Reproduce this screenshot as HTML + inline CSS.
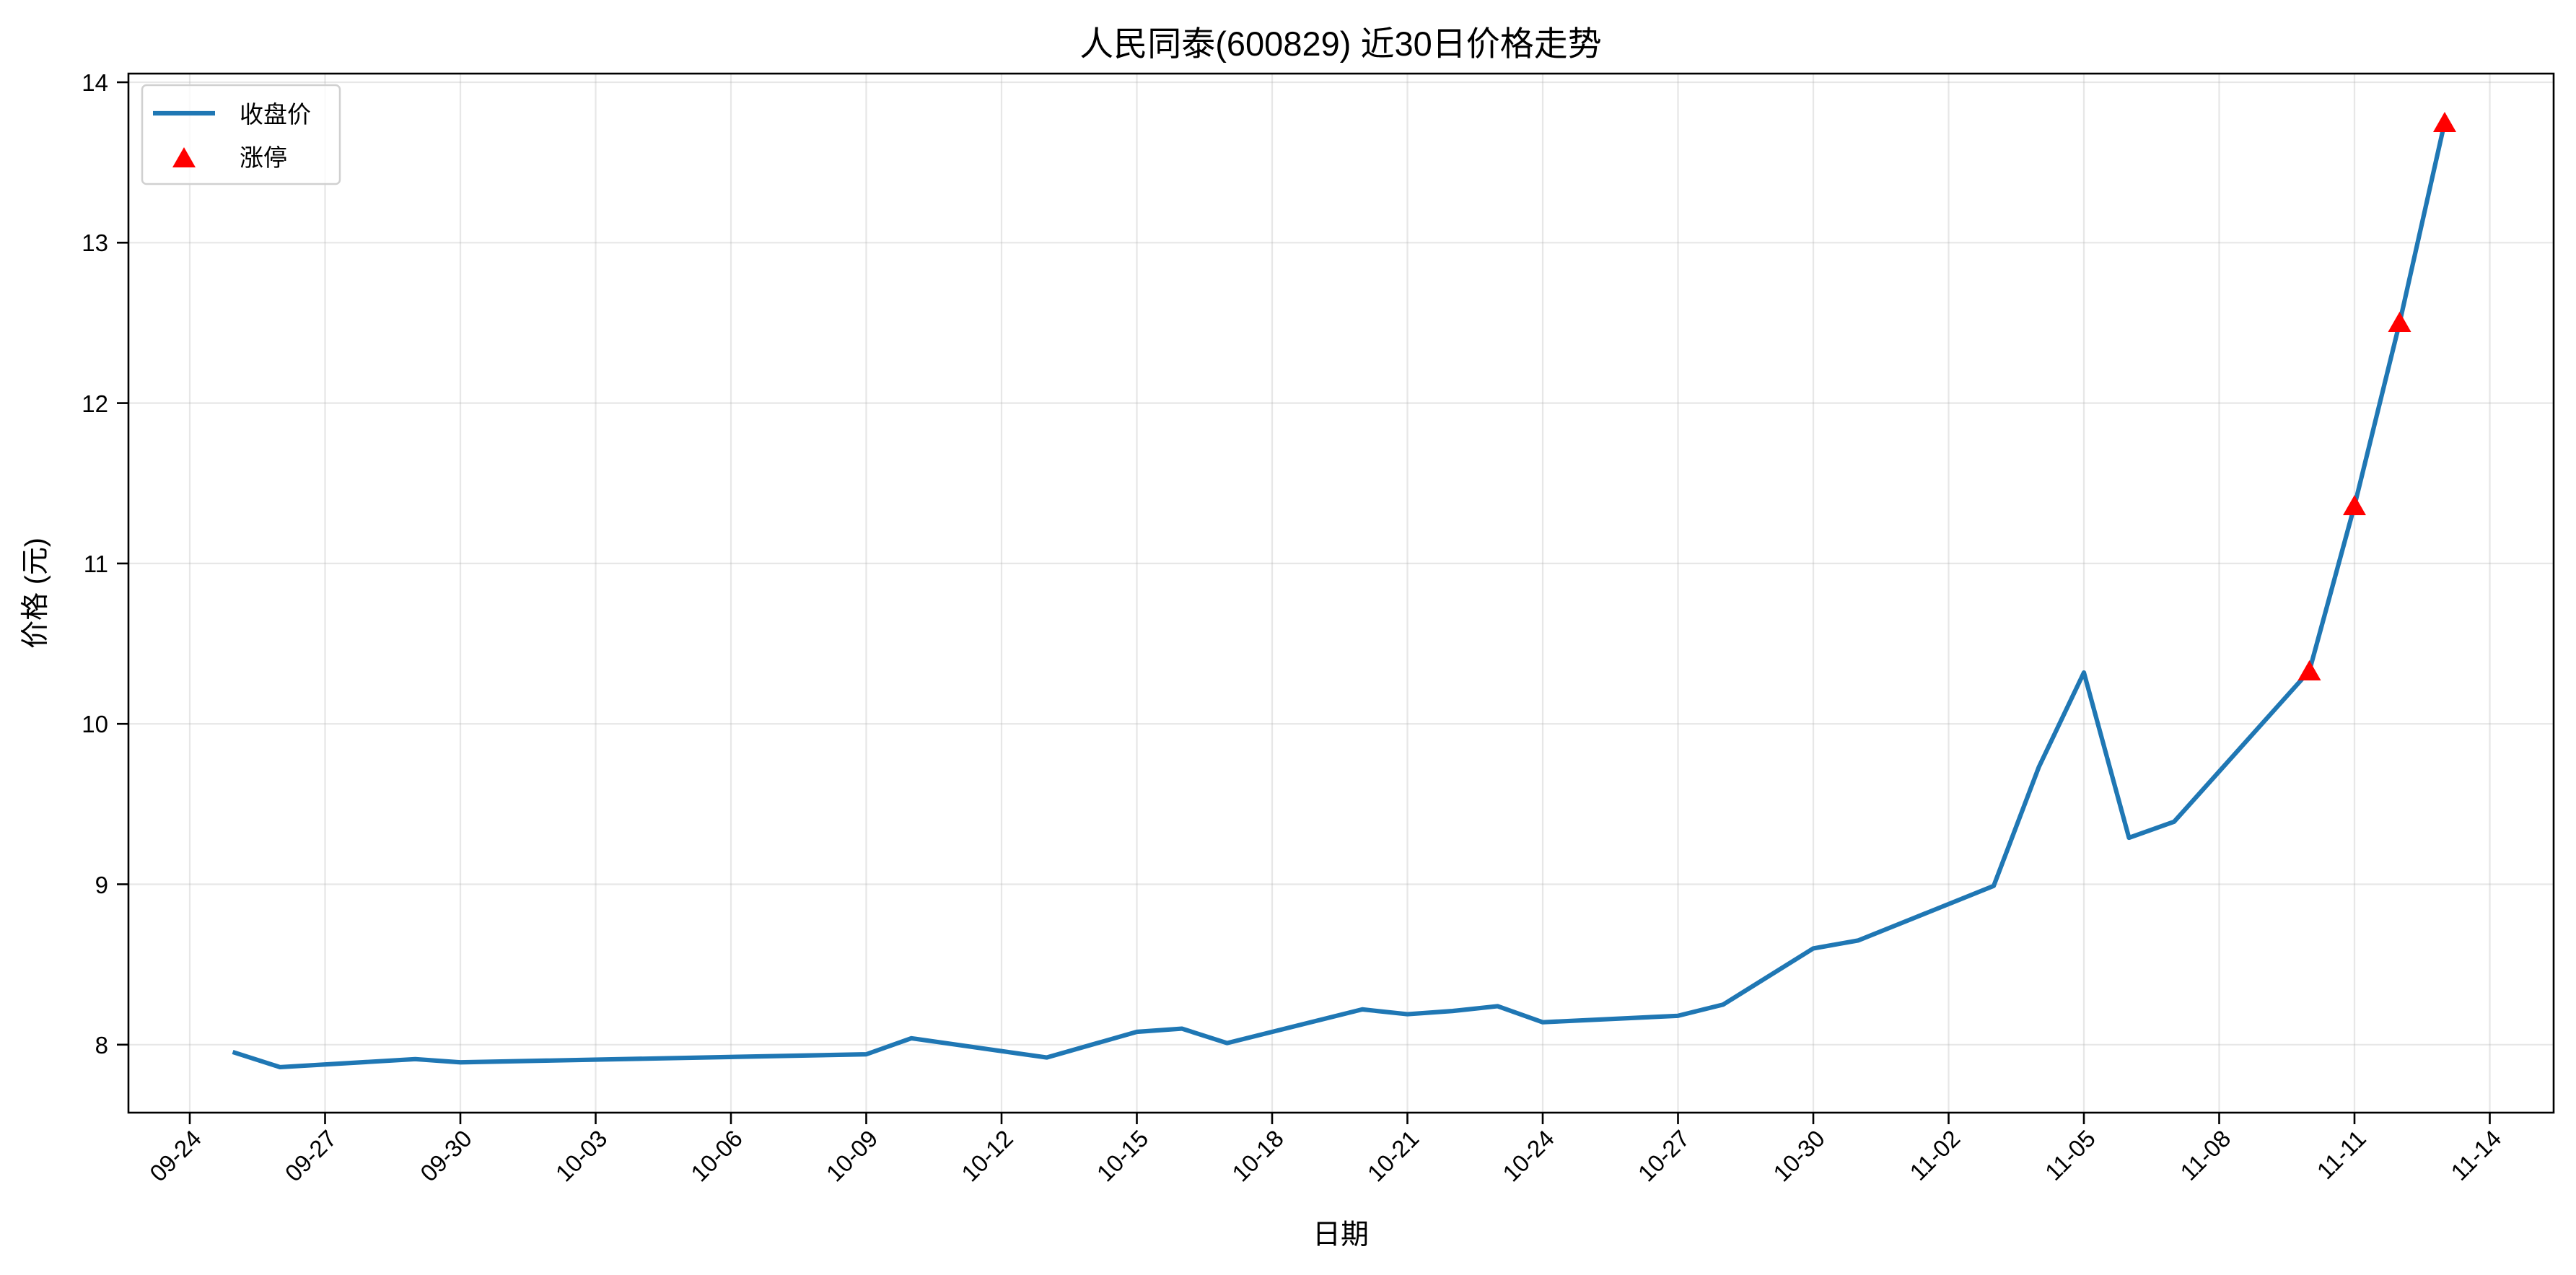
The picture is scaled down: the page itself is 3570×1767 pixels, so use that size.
<!DOCTYPE html>
<html><head><meta charset="utf-8"><style>
html,body{margin:0;padding:0;background:#fff;}
svg{display:block;font-family:"Liberation Sans","Noto Sans CJK SC",sans-serif;}
</style></head><body>
<svg width="3570" height="1767" viewBox="0 0 3570 1767" xmlns="http://www.w3.org/2000/svg">
<rect width="3570" height="1767" fill="#fff"/>
<g stroke="#b0b0b0" stroke-opacity="0.3" stroke-width="2.2">
<line x1="263" y1="102" x2="263" y2="1542"/><line x1="450.5" y1="102" x2="450.5" y2="1542"/><line x1="638" y1="102" x2="638" y2="1542"/><line x1="825.5" y1="102" x2="825.5" y2="1542"/><line x1="1013" y1="102" x2="1013" y2="1542"/><line x1="1200.5" y1="102" x2="1200.5" y2="1542"/><line x1="1388" y1="102" x2="1388" y2="1542"/><line x1="1575.5" y1="102" x2="1575.5" y2="1542"/><line x1="1763" y1="102" x2="1763" y2="1542"/><line x1="1950.5" y1="102" x2="1950.5" y2="1542"/><line x1="2138" y1="102" x2="2138" y2="1542"/><line x1="2325.5" y1="102" x2="2325.5" y2="1542"/><line x1="2513" y1="102" x2="2513" y2="1542"/><line x1="2700.5" y1="102" x2="2700.5" y2="1542"/><line x1="2888" y1="102" x2="2888" y2="1542"/><line x1="3075.5" y1="102" x2="3075.5" y2="1542"/><line x1="3263" y1="102" x2="3263" y2="1542"/><line x1="3450.5" y1="102" x2="3450.5" y2="1542"/>
<line x1="178" y1="114" x2="3539" y2="114"/><line x1="178" y1="336.3" x2="3539" y2="336.3"/><line x1="178" y1="558.6" x2="3539" y2="558.6"/><line x1="178" y1="780.9" x2="3539" y2="780.9"/><line x1="178" y1="1003.2" x2="3539" y2="1003.2"/><line x1="178" y1="1225.5" x2="3539" y2="1225.5"/><line x1="178" y1="1447.8" x2="3539" y2="1447.8"/>
</g>
<g transform="translate(263,3226.2) scale(62.5,-222.3)">
<polyline fill="none" stroke="#1f77b4" stroke-width="6.2" stroke-linejoin="round" stroke-linecap="square" vector-effect="non-scaling-stroke"
points="1,7.95 2,7.86 5,7.91 6,7.89 15,7.94 16,8.04 19,7.92 21,8.08 22,8.10 23,8.01 26,8.22 27,8.19 28,8.21 29,8.24 30,8.14 33,8.18 34,8.25 36,8.60 37,8.65 40,8.99 41,9.73 42,10.32 43,9.29 44,9.39 47,10.33 48,11.36 49,12.50 50,13.75"/>
</g>
<g fill="#ff0000">
<polygon points="3200.5,915 3184.5,943 3216.5,943"/>
<polygon points="3263,686 3247,714 3279,714"/>
<polygon points="3325.5,432 3309.5,460 3341.5,460"/>
<polygon points="3388,155 3372,183 3404,183"/>
</g>
<rect x="178" y="102" width="3361" height="1440" fill="none" stroke="#000" stroke-width="2.6"/>
<g stroke="#000" stroke-width="2.6">
<line x1="263" y1="1542" x2="263" y2="1558"/><line x1="450.5" y1="1542" x2="450.5" y2="1558"/><line x1="638" y1="1542" x2="638" y2="1558"/><line x1="825.5" y1="1542" x2="825.5" y2="1558"/><line x1="1013" y1="1542" x2="1013" y2="1558"/><line x1="1200.5" y1="1542" x2="1200.5" y2="1558"/><line x1="1388" y1="1542" x2="1388" y2="1558"/><line x1="1575.5" y1="1542" x2="1575.5" y2="1558"/><line x1="1763" y1="1542" x2="1763" y2="1558"/><line x1="1950.5" y1="1542" x2="1950.5" y2="1558"/><line x1="2138" y1="1542" x2="2138" y2="1558"/><line x1="2325.5" y1="1542" x2="2325.5" y2="1558"/><line x1="2513" y1="1542" x2="2513" y2="1558"/><line x1="2700.5" y1="1542" x2="2700.5" y2="1558"/><line x1="2888" y1="1542" x2="2888" y2="1558"/><line x1="3075.5" y1="1542" x2="3075.5" y2="1558"/><line x1="3263" y1="1542" x2="3263" y2="1558"/><line x1="3450.5" y1="1542" x2="3450.5" y2="1558"/>
<line x1="162" y1="114" x2="178" y2="114"/><line x1="162" y1="336.3" x2="178" y2="336.3"/><line x1="162" y1="558.6" x2="178" y2="558.6"/><line x1="162" y1="780.9" x2="178" y2="780.9"/><line x1="162" y1="1003.2" x2="178" y2="1003.2"/><line x1="162" y1="1225.5" x2="178" y2="1225.5"/><line x1="162" y1="1447.8" x2="178" y2="1447.8"/>
</g>
<g font-size="33" text-anchor="end" fill="#000">
<text x="150" y="126">14</text><text x="150" y="348">13</text><text x="150" y="571">12</text><text x="150" y="793">11</text><text x="150" y="1015">10</text><text x="150" y="1238">9</text><text x="150" y="1460">8</text>
</g>
<g font-size="33" text-anchor="end" fill="#000">
<text transform="translate(281,1580) rotate(-45)">09-24</text>
<text transform="translate(468.5,1580) rotate(-45)">09-27</text>
<text transform="translate(656,1580) rotate(-45)">09-30</text>
<text transform="translate(843.5,1580) rotate(-45)">10-03</text>
<text transform="translate(1031,1580) rotate(-45)">10-06</text>
<text transform="translate(1218.5,1580) rotate(-45)">10-09</text>
<text transform="translate(1406,1580) rotate(-45)">10-12</text>
<text transform="translate(1593.5,1580) rotate(-45)">10-15</text>
<text transform="translate(1781,1580) rotate(-45)">10-18</text>
<text transform="translate(1968.5,1580) rotate(-45)">10-21</text>
<text transform="translate(2156,1580) rotate(-45)">10-24</text>
<text transform="translate(2343.5,1580) rotate(-45)">10-27</text>
<text transform="translate(2531,1580) rotate(-45)">10-30</text>
<text transform="translate(2718.5,1580) rotate(-45)">11-02</text>
<text transform="translate(2906,1580) rotate(-45)">11-05</text>
<text transform="translate(3093.5,1580) rotate(-45)">11-08</text>
<text transform="translate(3281,1580) rotate(-45)">11-11</text>
<text transform="translate(3468.5,1580) rotate(-45)">11-14</text>
</g>
<text x="1858" y="77" font-size="47" text-anchor="middle" fill="#000">人民同泰(600829) 近30日价格走势</text>
<text x="1858" y="1724" font-size="39" text-anchor="middle" fill="#000">日期</text>
<text transform="translate(62,822) rotate(-90)" font-size="39" text-anchor="middle" fill="#000">价格 (元)</text>
<rect x="197" y="118" width="274" height="137" rx="6" fill="#fff" fill-opacity="0.8" stroke="#d0d0d0" stroke-width="2.5"/>
<line x1="212" y1="157" x2="298" y2="157" stroke="#1f77b4" stroke-width="6.2"/>
<polygon points="255,204 239,232 271,232" fill="#ff0000"/>
<text x="332" y="170" font-size="33" fill="#000">收盘价</text>
<text x="332" y="230" font-size="33" fill="#000">涨停</text>
</svg>
</body></html>
